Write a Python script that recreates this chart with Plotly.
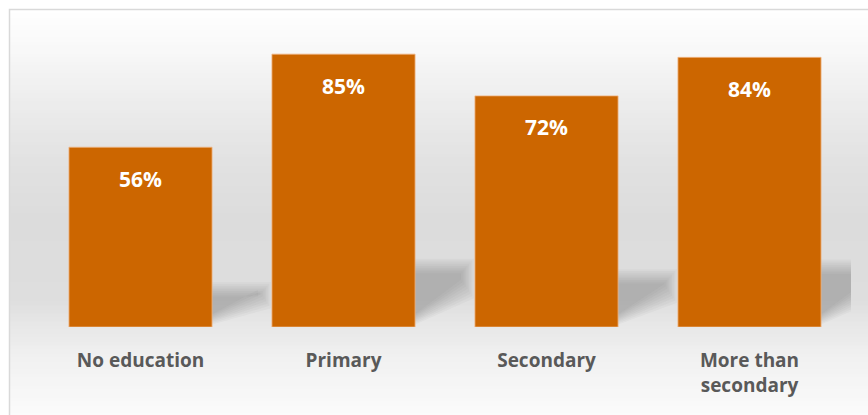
import plotly.graph_objects as go

# Share of respondents by education level
categories = ["No education", "Primary", "Secondary", "More than<br>secondary"]
values = [56, 85, 72, 84]

BAR_COLOR = "#CC6600"
LABEL_GRAY = "#595959"
FONT = "'Open Sans', Lato, sans-serif"

W, H = 868, 415
M_L, M_R, M_T, M_B = 39, 17, 6, 88
plot_w = W - M_L - M_R
plot_h = H - M_T - M_B
BAR_W = 0.705


def px_to_paper_x(px):
    return (px - M_L) / plot_w


def px_to_paper_y(py):
    return (H - M_B - py) / plot_h


fig = go.Figure()

fig.add_trace(go.Bar(
    x=categories,
    y=values,
    width=BAR_W,
    marker=dict(color=BAR_COLOR, line=dict(color="rgba(240,180,130,0.8)", width=1)),
    hoverinfo="skip",
))

shapes = []

# Vertical background gradient (pixel y, gray level)
stops = [(9, 255), (40, 250), (100, 237), (160, 226), (220, 220),
         (300, 222), (327, 232), (360, 241), (415, 251)]


def gray_at(py):
    for (y0, g0), (y1, g1) in zip(stops, stops[1:]):
        if y0 <= py <= y1:
            t = (py - y0) / (y1 - y0)
            return g0 + t * (g1 - g0)
    return stops[-1][1]


band = 4
py = 9.5
while py < H:
    g = round(gray_at(py + band / 2))
    shapes.append(dict(
        type="rect", xref="paper", yref="paper", layer="below",
        x0=px_to_paper_x(9.5), x1=px_to_paper_x(W + 5),
        y0=px_to_paper_y(py + band + 0.5), y1=px_to_paper_y(py),
        fillcolor=f"rgb({g},{g},{g})", line=dict(width=0),
    ))
    py += band

# Chart border
shapes.append(dict(
    type="rect", xref="paper", yref="paper", layer="below",
    x0=px_to_paper_x(9.5), x1=px_to_paper_x(W + 5),
    y0=px_to_paper_y(H + 5), y1=px_to_paper_y(9.5),
    fillcolor="rgba(0,0,0,0)", line=dict(color="#d9d9d9", width=1.5),
))

# Soft cast shadows to the right of each bar (layered for a blurred edge)
half_w = BAR_W / 2
dx = 0.29
for i, v in enumerate(values):
    xr = i + half_w
    top = 0.25 * v
    for k in range(9):
        s = k * 0.8
        path = (f"M {xr},{0.8 + s * 0.5} "
                f"L {xr + dx - s * 0.010},{top * 0.42 + s * 0.9} "
                f"L {xr + dx - s * 0.010},{top - s * 0.7} "
                f"L {xr},{top - s * 0.7} Z")
        shapes.append(dict(
            type="path", xref="x", yref="y", layer="below", path=path,
            fillcolor="rgba(90,90,90,0.045)", line=dict(width=0),
        ))

annotations = [
    dict(x=c, y=v, xref="x", yref="y", text=f"{v}%", showarrow=False,
         yanchor="middle", yshift=-31.5,
         font=dict(family=FONT, size=21, color="white", weight="bold"))
    for c, v in zip(categories, values)
]

fig.update_layout(
    width=W, height=H,
    margin=dict(l=M_L, r=M_R, t=M_T, b=M_B),
    paper_bgcolor="white",
    plot_bgcolor="rgba(0,0,0,0)",
    showlegend=False,
    shapes=shapes,
    annotations=annotations,
    xaxis=dict(
        range=[-0.5, len(categories) - 0.5],
        showgrid=False, zeroline=False, showline=False, ticks="",
        tickfont=dict(family=FONT, size=19, color=LABEL_GRAY, weight="bold"),
        ticklabelstandoff=20,
        fixedrange=True,
    ),
    yaxis=dict(range=[0, 100], visible=False, fixedrange=True),
)

fig.write_html("out.html")
